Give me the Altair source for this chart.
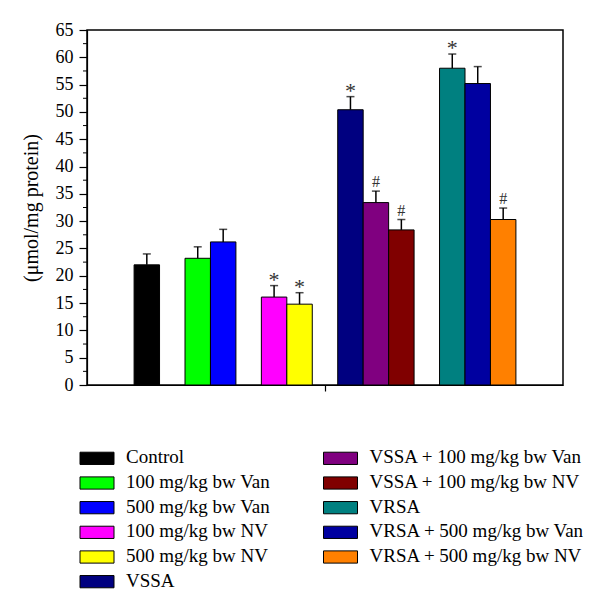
import altair as alt
import pandas as pd

categories = [
    "Control", "100 mg/kg bw Van", "500 mg/kg bw Van", "100 mg/kg bw NV",
    "500 mg/kg bw NV", "VSSA", "VSSA + 100 mg/kg bw Van", "VSSA + 100 mg/kg bw NV",
    "VRSA", "VRSA + 500 mg/kg bw Van", "VRSA + 500 mg/kg bw NV",
]
groups = [1, 2, 2, 3, 3, 4, 4, 4, 5, 5, 5]
values = [22.0, 23.2, 26.2, 16.1, 14.8, 50.4, 33.4, 28.4, 58.0, 55.2, 30.3]
errors = [2.0, 2.1, 2.3, 2.1, 2.1, 2.4, 2.1, 1.9, 2.6, 3.1, 2.1]
markers = ["", "", "", "*", "*", "*", "#", "#", "*", "", "#"]
colors = ["#000000", "#00FF00", "#0000FF", "#FF00FF", "#FFFF00", "#000080",
          "#800080", "#800000", "#008080", "#0000A0", "#FF8000"]
y_ticks = list(range(0, 70, 5))
minor_ticks = [v + 2.5 for v in range(0, 65, 5)]

# slot positions derived from grouping (one empty slot between groups)
slots = []
s = 0
prev = groups[0]
for g in groups:
    if g != prev:
        s += 1
        prev = g
    slots.append(s)
    s += 1

df = pd.DataFrame({
    "cat": categories, "slot": slots, "value": values, "err": errors,
    "mark": markers, "color": colors,
})
df["x0"] = df["slot"] - 0.5
df["x1"] = df["slot"] + 0.5
df["top"] = df["value"] + df["err"]

mid = (min(slots) + max(slots)) / 2.0
xdom = [mid - 9.35, mid + 9.35]
FONT = "Liberation Serif"

xs = alt.Scale(domain=xdom, nice=False, zero=False)
ys = alt.Scale(domain=[0, 65], nice=False)
color_scale = alt.Scale(domain=categories, range=colors)

x_axis = alt.Axis(values=[mid], labels=False, tickSize=6, tickColor="black",
                  domainColor="black", domainWidth=1.2, tickWidth=1.2,
                  grid=False, title=None)
y_axis = alt.Axis(values=y_ticks, tickSize=8, tickColor="black", tickWidth=1.2,
                  domainColor="black", domainWidth=1.2, grid=False,
                  labelFont=FONT, labelFontSize=18, labelColor="black",
                  labelOverlap=False, labelFlush=False,
                  labelPadding=6, title="(\u03bcmol/mg protein)",
                  titleFont=FONT, titleFontSize=20, titleFontWeight="normal",
                  titleColor="black", titlePadding=14)


def X(f):
    return alt.X(f, scale=xs, axis=x_axis)


def Y(f):
    return alt.Y(f, scale=ys, axis=y_axis)


base = alt.Chart(df)

bars = base.mark_bar(stroke="black", strokeWidth=1).encode(
    x=X("x0:Q"), x2="x1:Q", y=Y("value:Q"), y2=alt.datum(0),
    color=alt.Color("cat:N", scale=color_scale, legend=None),
)

err_rule = base.mark_rule(color="black", strokeWidth=1.5).encode(
    x=X("slot:Q"), y=Y("value:Q"), y2="top:Q")
err_cap = base.mark_tick(color="black", orient="horizontal", size=8, thickness=1.5).encode(
    x=X("slot:Q"), y=Y("top:Q"))

star = base.transform_filter(alt.datum.mark == "*").mark_text(
    font=FONT, fontSize=22, baseline="alphabetic", dy=1, color="#333").encode(
    x=X("slot:Q"), y=Y("top:Q"), text="mark:N")
hashm = base.transform_filter(alt.datum.mark == "#").mark_text(
    font=FONT, fontSize=16, baseline="alphabetic", dy=-4, color="#333").encode(
    x=X("slot:Q"), y=Y("top:Q"), text="mark:N")

minor = alt.Chart(pd.DataFrame({"m": minor_ticks})).mark_rule(
    color="black", strokeWidth=1).encode(
    y=Y("m:Q"), x=alt.value(-4), x2=alt.value(0))

main = alt.layer(bars, err_rule, err_cap, star, hashm, minor).properties(
    width=476, height=355,
    view=alt.ViewBackground(stroke="black", strokeWidth=1.5))

# legend
leg_col = [0] * 6 + [1] * 5
leg_row = list(range(6)) + list(range(5))
ldf = pd.DataFrame({"cat": categories, "col": leg_col, "row": leg_row})
lx = alt.Scale(domain=[-10 / 243.5, 466 / 243.5], nice=False, zero=False)
ly = alt.Scale(domain=[-0.5, 5.5], reverse=True, nice=False, zero=False)
lbase = alt.Chart(ldf)
sw = lbase.mark_point(
    shape="M-1,-0.36L1,-0.36L1,0.36L-1,0.36Z", size=1156, filled=True,
    stroke="black", strokeWidth=1, opacity=1).encode(
    x=alt.X("col:Q", scale=lx, axis=None),
    y=alt.Y("row:Q", scale=ly, axis=None),
    fill=alt.Fill("cat:N", scale=color_scale, legend=None))
lt = lbase.mark_text(align="left", baseline="middle", dx=29, dy=-1, font=FONT,
                     fontSize=19, color="black").encode(
    x=alt.X("col:Q", scale=lx, axis=None),
    y=alt.Y("row:Q", scale=ly, axis=None), text="cat:N")
legend = alt.layer(sw, lt).properties(
    width=476, height=148,
    view=alt.ViewBackground(stroke="transparent"))

chart = alt.vconcat(main, legend, spacing=50).properties(
    padding={"left": 12, "top": 12, "right": 5, "bottom": 5},
    background="white")

chart.save("out.html", embed_options={"renderer": "svg", "actions": False})
